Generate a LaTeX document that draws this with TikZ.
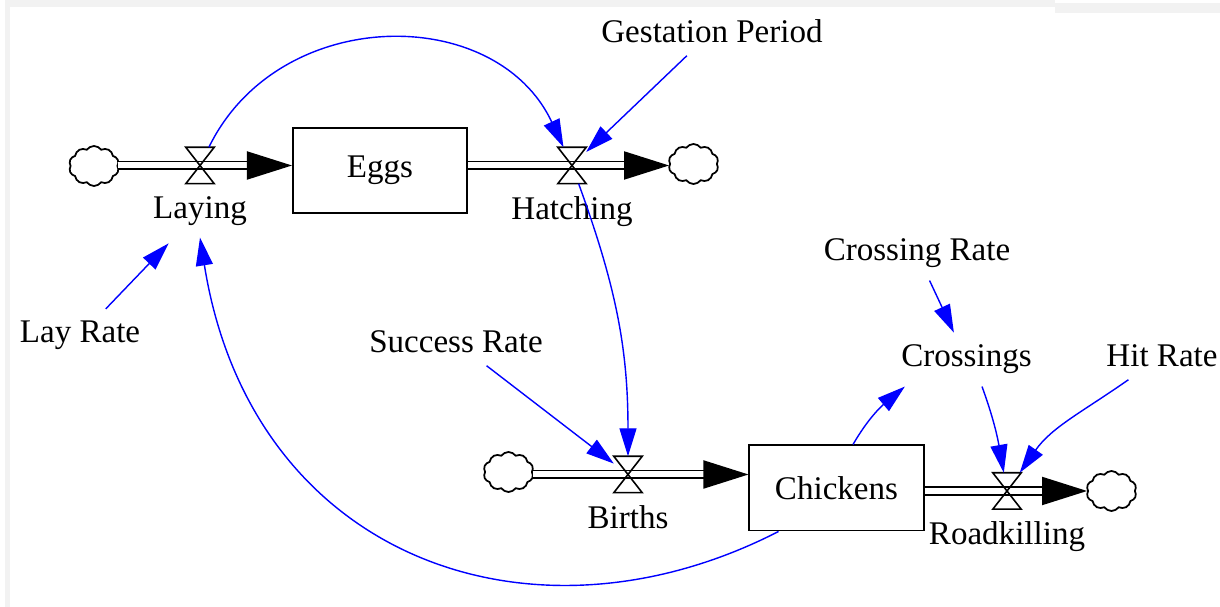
\documentclass[tikz,border=0pt]{standalone}
\usepackage{fontspec}
\setmainfont{Liberation Serif}
\usepackage{tikz}
\usetikzlibrary{arrows.meta, positioning, shapes.symbols, calc}

\begin{document}
\begin{tikzpicture}[
    x=0.01cm, y=0.01cm,
    font=\fontsize{9.4}{11}\selectfont,
    stock/.style={rectangle, draw, line width=0.55pt, minimum width=1.74cm, minimum height=0.85cm},
    valve/.style={rectangle, minimum width=0.27cm, minimum height=0.35cm, inner sep=0pt},
    sink/.style={cloud, draw, cloud puffs=10, cloud puff arc=110, aspect=1.25, minimum width=0.5cm, minimum height=0.4cm, inner sep=0pt, line width=0.5pt},
    pipe/.style={double, double distance=0.06cm, line width=0.55pt, -{Triangle[length=0.45cm, width=0.28cm]}},
    link/.style={draw=blue, line width=0.4pt, -{Triangle[length=0.28cm, width=0.17cm]}}
]
    \useasboundingbox (0,0) rectangle (1220,-607);
    % frame edges
    \fill[gray!10] (5,0) rectangle (1055,-7);
    \fill[gray!10] (5,-7) rectangle (10,-607);
    \fill[gray!10] (1055,-3) rectangle (1220,-13);

    % stocks
    \node[stock] (eggs) at (380,-170.5) {Eggs};
    \node[stock] (chick) at (836.5,-488) {Chickens};

    % flows
    \node[valve] (lay) at (200,-165.5) {};
    \node[valve] (hatch) at (572,-165.5) {};
    \node[valve] (births) at (628,-474.5) {};
    \node[valve] (road) at (1007,-491) {};
    \node[below=0pt of lay] (laylbl) {Laying};
    \node[below=0pt of hatch] (hatchlbl) {Hatching};
    \node[below=0pt of births] (birthslbl) {Births};
    \node[below=0pt of road] (roadlbl) {Roadkilling};

    % clouds
    \node[sink] (lcloud) at (94,-166) {};
    \node[sink] (hcloud) at (693.5,-164) {};
    \node[sink] (bcloud) at (508.5,-472) {};
    \node[sink] (rcloud) at (1111.5,-491) {};

    % auxiliaries
    \node[anchor=base] (gest) at (712,-43) {Gestation Period};
    \node[anchor=base] (layrate) at (80,-343) {Lay Rate};
    \node[anchor=base] (succ) at (456,-353) {Success Rate};
    \node[anchor=base] (crossrate) at (917,-261) {Crossing Rate};
    \node[anchor=base] (crossings) at (966.5,-367) {Crossings};
    \node[anchor=base] (hitrate) at (1162,-367) {Hit Rate};

    % pipes
    \draw[pipe] (lcloud.east |- lay) -- (lay -| eggs.west);
    \draw[pipe] (eggs.east |- hatch) -- (hatch -| hcloud.west);
    \draw[pipe] (bcloud.east |- births) -- (births -| chick.west);
    \draw[pipe] (chick.east |- road) -- (road -| rcloud.west);
    \foreach \v in {lay, hatch, births, road}
        \draw[line width=0.45pt] (\v.north west) -- (\v.north east) -- (\v.south west) -- (\v.south east) -- cycle;

    % links
    \draw[link] (lay) to[out=64, in=115, looseness=1.15] (hatch);
    \draw[link] (gest) -- (hatch);
    \draw[link, shorten >=0.08cm] (layrate) -- (laylbl);
    \draw[link] (hatch) to[out=-70, in=90] (births);
    \draw[link] (succ) -- (births);
    \draw[link] (crossrate) -- (crossings);
    \draw[link] ([xshift=0.165cm]chick.north) to[out=60, in=220] ([xshift=0.16cm]crossings.south west);
    \draw[link] ([xshift=0.155cm]crossings.south) to[out=-70, in=100] (road);
    \draw[link] (hitrate) to[out=215, in=55] (road);
    \draw[link] ([xshift=0.3cm]chick.south west) .. controls (530,-659) and (251,-557) .. (laylbl.south);
\end{tikzpicture}
\end{document}
